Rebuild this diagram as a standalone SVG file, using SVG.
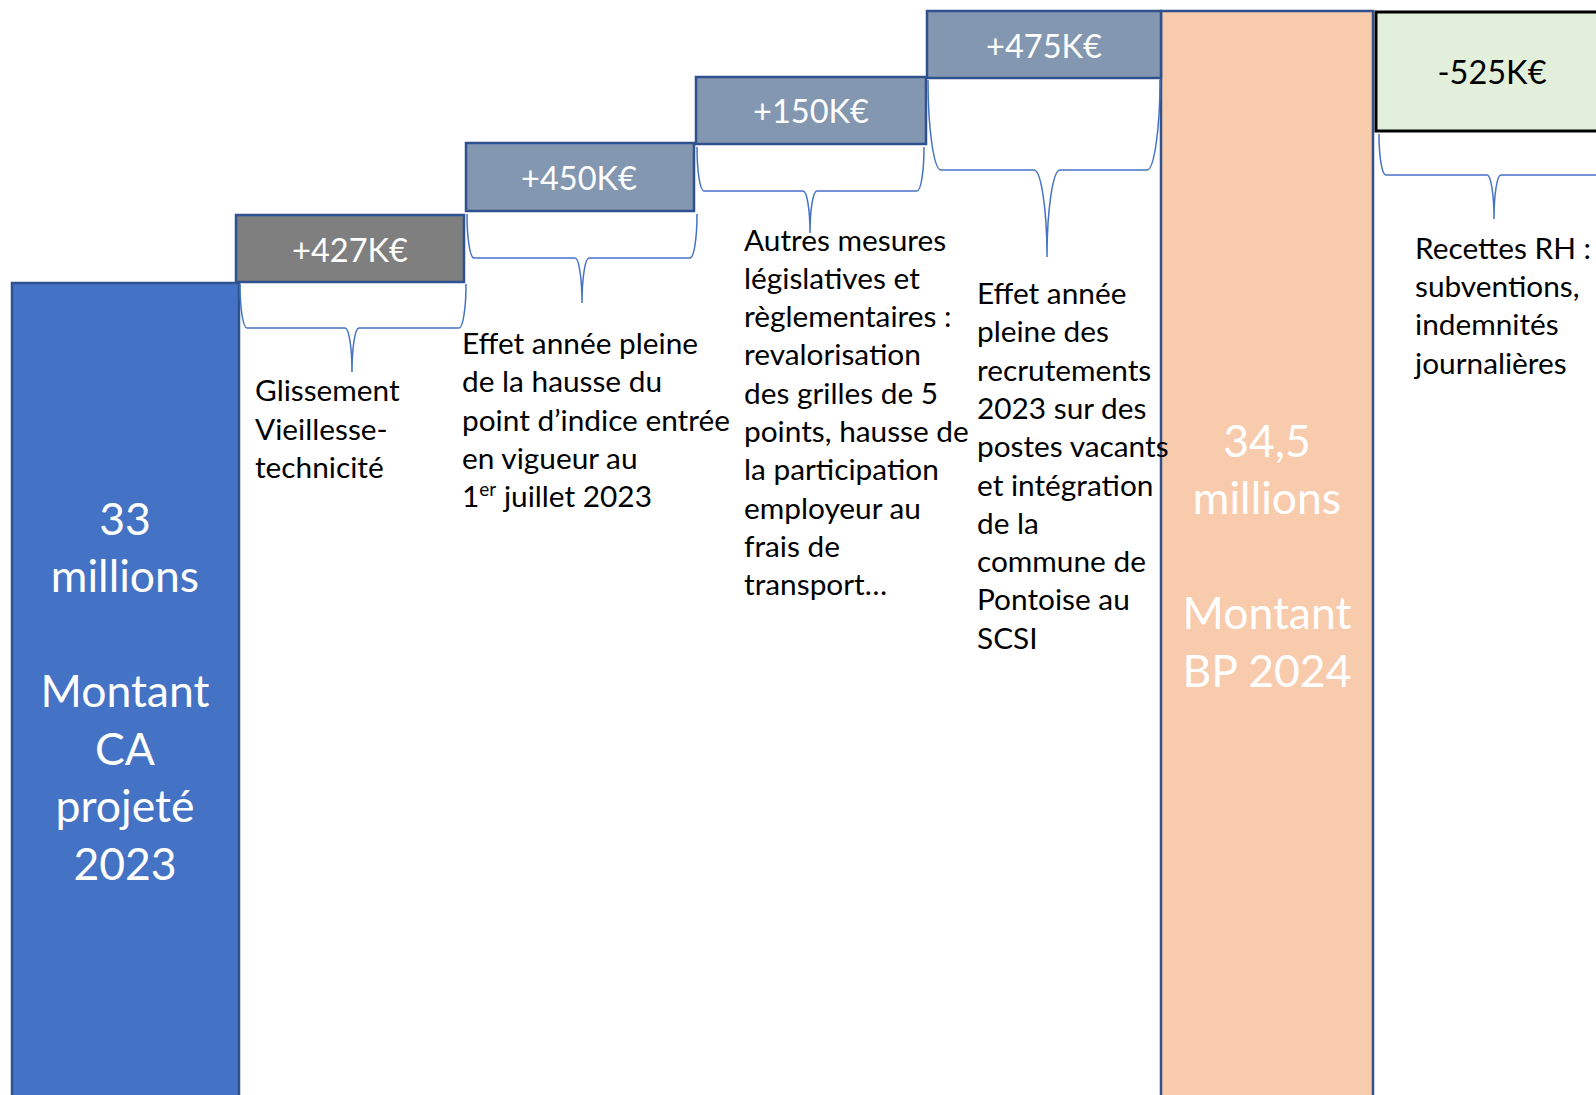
<svg xmlns="http://www.w3.org/2000/svg" width="1596" height="1095" viewBox="0 0 1596 1095">
<style>
.bar{stroke:#2F528F;stroke-width:2.5}
.box{stroke:#2F528F;stroke-width:2.5}
.lbl{font-family:Lato,"Open Sans",sans-serif;font-size:32.5px;fill:#FFFFFF;text-anchor:middle}
.big{font-family:Lato,"Open Sans",sans-serif;font-size:44.5px;fill:#FFFFFF;text-anchor:middle}
.txt{font-family:Lato,"Open Sans",sans-serif;font-size:29.8px;fill:#000000}
.brace{fill:none;stroke:#4472C4;stroke-width:1.5}
</style>
<rect width="1596" height="1095" fill="#FFFFFF"/>
<g id="ca2023">
<rect class="bar" x="12" y="283" width="227" height="830" fill="#4472C4"/>
<text class="big" x="125" y="535">33</text>
<text class="big" x="125" y="592">millions</text>
<text class="big" x="125" y="707">Montant</text>
<text class="big" x="125" y="765">CA</text>
<text class="big" x="125" y="822">projeté</text>
<text class="big" x="125" y="880">2023</text>
</g>
<g id="bp2024">
<rect class="bar" x="1161" y="11" width="212" height="1110" fill="#F8CBAD"/>
<text class="big" x="1267" y="457">34,5</text>
<text class="big" x="1267" y="514">millions</text>
<text class="big" x="1267" y="629">Montant</text>
<text class="big" x="1267" y="687">BP 2024</text>
</g>
<g id="step427">
<rect class="box" x="236" y="215" width="228" height="67" fill="#7F7F7F"/>
<text class="lbl" x="350" y="262">+427K€</text>
</g>
<g id="step450">
<rect class="box" x="466" y="143" width="228" height="68" fill="#8497B0"/>
<text class="lbl" x="579" y="190">+450K€</text>
</g>
<g id="step150">
<rect class="box" x="696" y="77" width="230" height="67" fill="#8497B0"/>
<text class="lbl" x="811" y="123">+150K€</text>
</g>
<g id="step475">
<rect class="box" x="927" y="11" width="234" height="67" fill="#8497B0"/>
<text class="lbl" x="1044" y="58">+475K€</text>
</g>
<g id="step525">
<rect x="1376" y="12" width="240" height="119" fill="#E2EFDA" stroke="#000000" stroke-width="3"/>
<text class="lbl" x="1492" y="84" style="fill:#000000">-525K€</text>
</g>
<g id="connectors">
<path class="brace" d="M240,284 C240,308 243,328 247,328 L345,328 C349,328 352,348 352,372 C352,348 355,328 359,328 L459,328 C463,328 466,308 466,284"/>
<path class="brace" d="M467,214 C467,238 470,258 474,258 L575,258 C579,258 582,279 582,303 C582,279 585,258 589,258 L690,258 C694,258 697,238 697,214"/>
<path class="brace" d="M697,147 C697,171 700,191 704,191 L803,191 C807,191 810,210 810,233 C810,210 813,191 817,191 L917,191 C921,191 924,171 924,147"/>
<path class="brace" d="M928,80 C928,130 934,170 941,170 L1034,170 C1041,170 1047,209 1047,257 C1047,209 1053,170 1060,170 L1147,170 C1154,170 1160,130 1160,80"/>
<path class="brace" d="M1379,134 C1379,157 1382,175 1386,175 L1487,175 C1491,175 1494,195 1494,219 C1494,195 1497,175 1501,175 L1602,175 C1606,175 1609,157 1609,134"/>
</g>
<g id="note427">
<text class="txt" x="255" y="401">Glissement</text>
<text class="txt" x="255" y="440">Vieillesse-</text>
<text class="txt" x="255" y="478">technicité</text>
</g>
<g id="note450">
<text class="txt" x="462" y="353.5">Effet année pleine</text>
<text class="txt" x="462" y="391.5">de la hausse du</text>
<text class="txt" x="462" y="430.5">point d’indice entrée</text>
<text class="txt" x="462" y="468.5">en vigueur au</text>
<text class="txt" x="462" y="506.5">1<tspan font-size="19" dy="-11">er</tspan><tspan dy="11"> juillet 2023</tspan></text>
</g>
<g id="note150">
<text class="txt" x="744" y="250.5">Autres mesures</text>
<text class="txt" x="744" y="288.8">législatives et</text>
<text class="txt" x="744" y="327.1">règlementaires :</text>
<text class="txt" x="744" y="365.4">revalorisation</text>
<text class="txt" x="744" y="403.7">des grilles de 5</text>
<text class="txt" x="744" y="442">points, hausse de</text>
<text class="txt" x="744" y="480.3">la participation</text>
<text class="txt" x="744" y="518.6">employeur au</text>
<text class="txt" x="744" y="556.9">frais de</text>
<text class="txt" x="744" y="595.2">transport…</text>
</g>
<g id="note475">
<text class="txt" x="977" y="304">Effet année</text>
<text class="txt" x="977" y="342.3">pleine des</text>
<text class="txt" x="977" y="380.6">recrutements</text>
<text class="txt" x="977" y="418.9">2023 sur des</text>
<text class="txt" x="977" y="457.2">postes vacants</text>
<text class="txt" x="977" y="495.5">et intégration</text>
<text class="txt" x="977" y="533.8">de la</text>
<text class="txt" x="977" y="572.1">commune de</text>
<text class="txt" x="977" y="610.4">Pontoise au</text>
<text class="txt" x="977" y="648.7">SCSI</text>
</g>
<g id="note525">
<text class="txt" x="1415" y="259">Recettes RH :</text>
<text class="txt" x="1415" y="297">subventions,</text>
<text class="txt" x="1415" y="335">indemnités</text>
<text class="txt" x="1415" y="374">journalières</text>
</g>
</svg>
